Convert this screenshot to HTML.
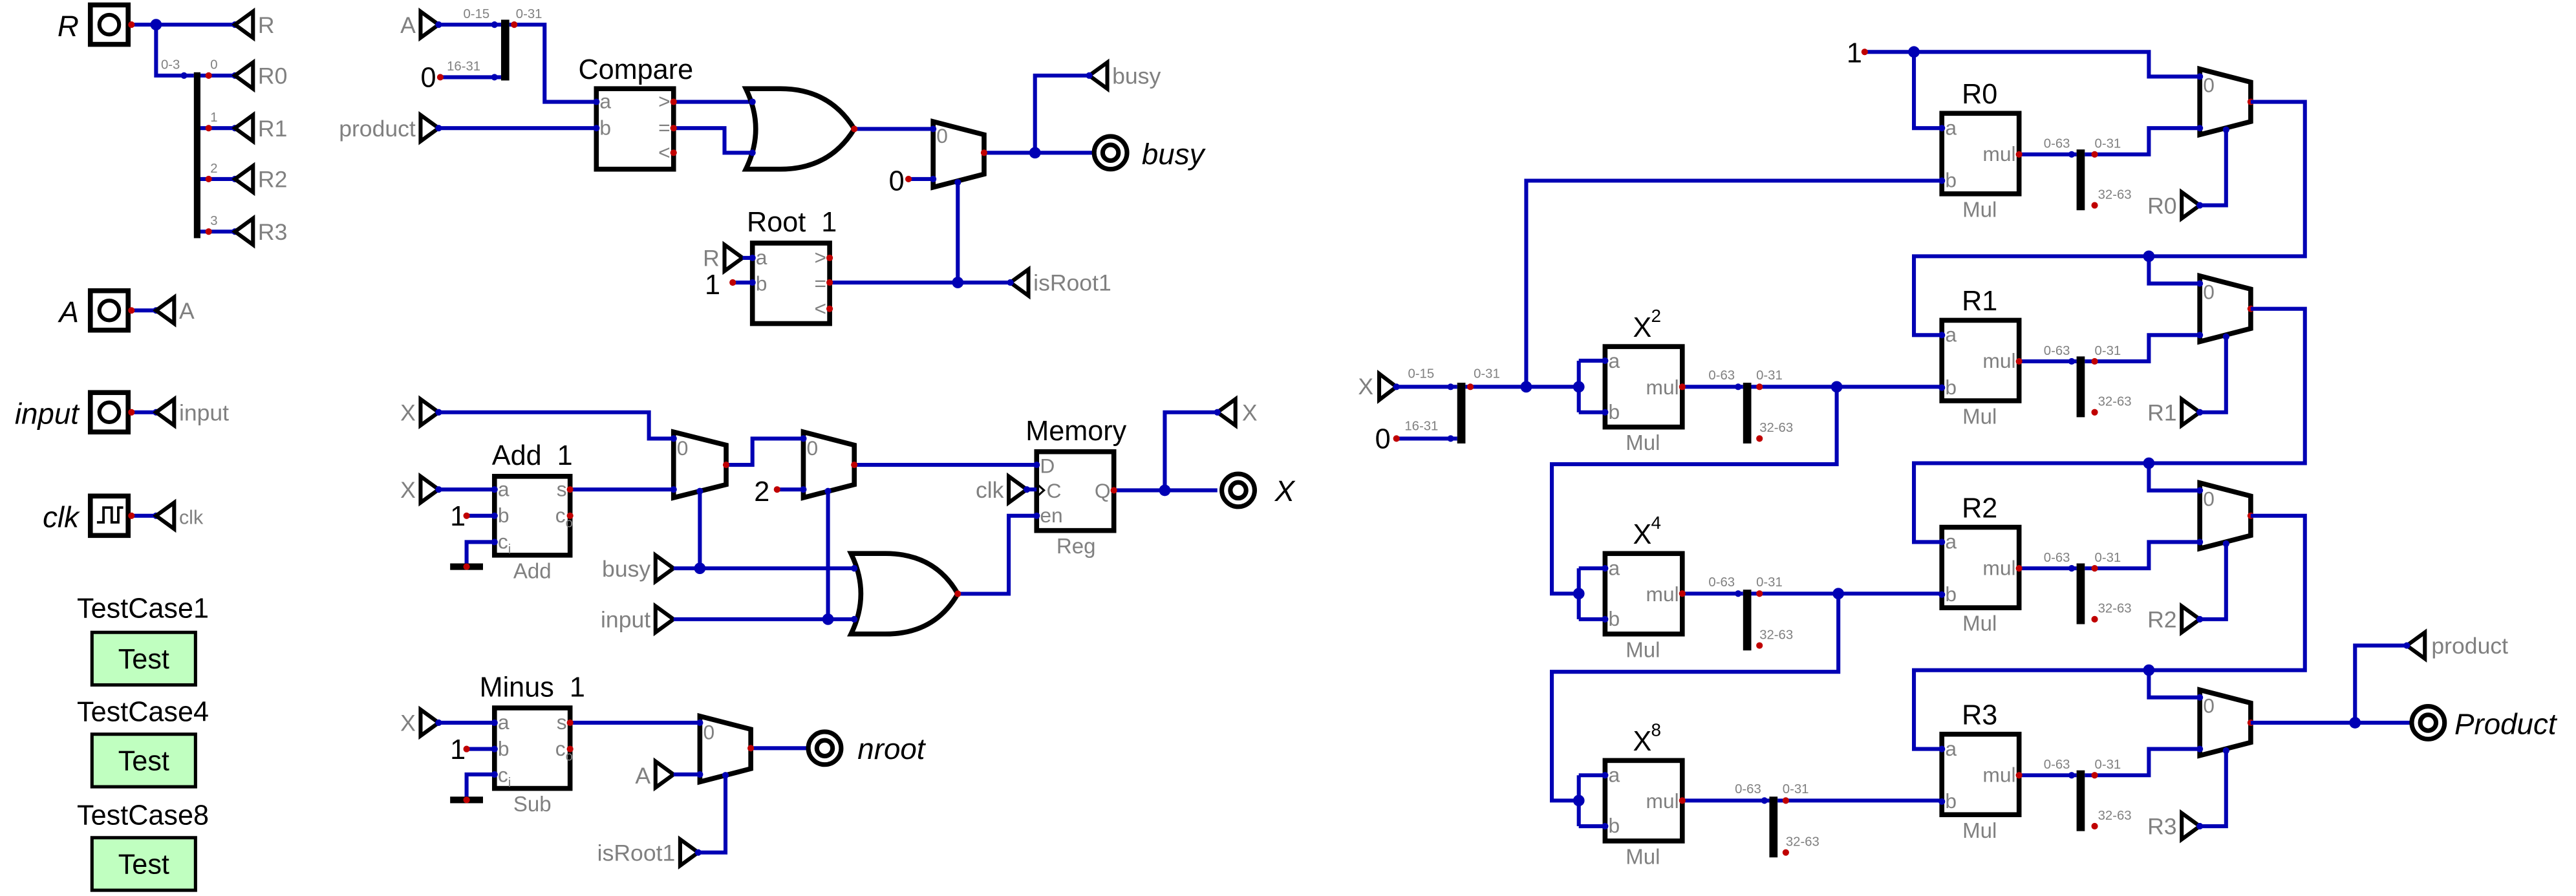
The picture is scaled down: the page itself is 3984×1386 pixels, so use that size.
<!DOCTYPE html>
<html><head><meta charset="utf-8"><style>
html,body{margin:0;padding:0;background:#fff;}
svg{display:block;}
.w{stroke:#0000b4;stroke-width:2.4;fill:none;}
.k{stroke:#000;stroke-width:3;fill:#fff;}
.t{stroke:#000;stroke-width:2.4;fill:none;}
text{font-family:"Liberation Sans Narrow","Liberation Sans",sans-serif;}
.g{fill:#808080;font-size:14px;}
.p{fill:#808080;font-size:12.5px;}
.s{fill:#808080;font-size:8px;}
.h{fill:#000;font-size:17px;}
.i{fill:#000;font-size:18px;font-style:italic;font-family:"Liberation Sans",sans-serif;}
.r{fill:#c00000;}
.b{fill:#0000b4;}
</style></head><body>
<svg width="3984" height="1386" viewBox="0 0 1568 545.5" preserveAspectRatio="none" xmlns="http://www.w3.org/2000/svg">
<!-- LEFT COLUMN -->
<text class="i" x="48" y="22" text-anchor="end">R</text>
<rect class="k" x="55" y="3" width="23" height="24" fill="none"/>
<circle cx="66.5" cy="15" r="6" class="t" stroke-width="3"/>
<path class="w" d="M80,15H143M95,15V46H118"/>
<circle class="b" cx="95" cy="15" r="3.5"/>
<circle class="r" cx="80" cy="15" r="2"/><circle class="b" cx="143" cy="15" r="2"/><circle class="b" cx="112" cy="46" r="2"/>
<polygon class="t" points="143,15 154,7 154,23"/><text class="g" x="157" y="20">R</text>
<rect x="118" y="44" width="4" height="101" fill="#000"/>
<text class="s" x="98" y="42">0-3</text>
<path class="w" d="M122,46H143M122,78H143M122,109H143M122,141H143"/>
<circle class="r" cx="127" cy="46" r="2"/><circle class="r" cx="127" cy="78" r="2"/><circle class="r" cx="127" cy="109" r="2"/><circle class="r" cx="127" cy="141" r="2"/>
<circle class="b" cx="143" cy="46" r="2"/><circle class="b" cx="143" cy="78" r="2"/><circle class="b" cx="143" cy="109" r="2"/><circle class="b" cx="143" cy="141" r="2"/>
<text class="s" x="128" y="42">0</text><text class="s" x="128" y="74">1</text><text class="s" x="128" y="105">2</text><text class="s" x="128" y="137">3</text>
<polygon class="t" points="143,46 154,38 154,54"/><text class="g" x="157" y="51">R0</text>
<polygon class="t" points="143,78 154,70 154,86"/><text class="g" x="157" y="83">R1</text>
<polygon class="t" points="143,109 154,101 154,117"/><text class="g" x="157" y="114">R2</text>
<polygon class="t" points="143,141 154,133 154,149"/><text class="g" x="157" y="146">R3</text>

<text class="i" x="48" y="196" text-anchor="end">A</text>
<rect class="k" x="55" y="177" width="23" height="24" fill="none"/>
<circle cx="66.5" cy="189" r="6" class="t" stroke-width="3"/>
<path class="w" d="M80,189H95"/><circle class="r" cx="80" cy="189" r="2"/><circle class="b" cx="95" cy="189" r="2"/>
<polygon class="t" points="95,189 106,181 106,197"/><text class="g" x="109" y="194">A</text>

<text class="i" x="48" y="258" text-anchor="end">input</text>
<rect class="k" x="55" y="239" width="23" height="24" fill="none"/>
<circle cx="66.5" cy="251" r="6" class="t" stroke-width="3"/>
<path class="w" d="M80,251H95"/><circle class="r" cx="80" cy="251" r="2"/><circle class="b" cx="95" cy="251" r="2"/>
<polygon class="t" points="95,251 106,243 106,259"/><text class="g" x="109" y="256">input</text>

<text class="i" x="48" y="321" text-anchor="end">clk</text>
<rect class="k" x="55" y="302" width="23" height="24" fill="none"/>
<path d="M59,318H63V309H68V318H72V309H75" stroke="#000" stroke-width="1.5" fill="none"/>
<path class="w" d="M80,314H95" stroke-width="1.6"/><circle class="r" cx="80" cy="314" r="2"/><circle class="b" cx="95" cy="314" r="2"/>
<polygon class="t" points="95,314 106,306 106,322"/><text class="g" x="109" y="319" style="font-family:'Liberation Sans',sans-serif;font-size:12px">clk</text>

<g style="font-family:'Liberation Sans',sans-serif">
<text x="87" y="376" text-anchor="middle" style="font-family:'Liberation Sans',sans-serif;font-size:17px">TestCase1</text>
<rect x="56" y="385" width="63" height="32" fill="#c0ffc0" stroke="#000" stroke-width="2"/>
<text x="87.5" y="407" text-anchor="middle" style="font-family:'Liberation Sans',sans-serif;font-size:17px">Test</text>
<text x="87" y="439" text-anchor="middle" style="font-family:'Liberation Sans',sans-serif;font-size:17px">TestCase4</text>
<rect x="56" y="447" width="63" height="32" fill="#c0ffc0" stroke="#000" stroke-width="2"/>
<text x="87.5" y="469" text-anchor="middle" style="font-family:'Liberation Sans',sans-serif;font-size:17px">Test</text>
<text x="87" y="502" text-anchor="middle" style="font-family:'Liberation Sans',sans-serif;font-size:17px">TestCase8</text>
<rect x="56" y="510" width="63" height="32" fill="#c0ffc0" stroke="#000" stroke-width="2"/>
<text x="87.5" y="532" text-anchor="middle" style="font-family:'Liberation Sans',sans-serif;font-size:17px">Test</text>
</g>

<!-- MIDDLE TOP -->
<polygon class="t" points="256,7 267,15 256,23"/><text class="g" x="253" y="20" text-anchor="end">A</text>
<path class="w" d="M267,15H305M310,15H331.5V62H363"/>
<rect x="305" y="12" width="5" height="37" fill="#000"/>
<circle class="b" cx="267" cy="15" r="2"/><circle class="b" cx="301" cy="15" r="2"/><circle class="r" cx="313" cy="15" r="2"/>
<text class="h" x="256" y="53">0</text>
<path class="w" d="M268,47H305"/><circle class="r" cx="268" cy="47" r="2"/><circle class="b" cx="301" cy="47" r="2"/>
<text class="s" x="282" y="11">0-15</text><text class="s" x="272" y="43">16-31</text><text class="s" x="314" y="11">0-31</text>
<polygon class="t" points="256,70 267,78 256,86"/><text class="g" x="253" y="83" text-anchor="end">product</text>
<path class="w" d="M267,78H363"/><circle class="b" cx="267" cy="78" r="2"/>
<rect class="k" x="363" y="54" width="47" height="49"/>
<text class="h" x="387" y="48" text-anchor="middle">Compare</text>
<text class="p" x="365" y="66">a</text><text class="p" x="365" y="82">b</text>
<text class="p" x="408" y="66" text-anchor="end">&gt;</text><text class="p" x="408" y="82" text-anchor="end">=</text><text class="p" x="408" y="97" text-anchor="end">&lt;</text>
<circle class="b" cx="363" cy="62" r="2"/><circle class="b" cx="363" cy="78" r="2"/>
<path class="w" d="M410,62H458M410,78H441V93H458"/>
<circle class="r" cx="410" cy="62" r="2"/><circle class="r" cx="410" cy="78" r="2"/><circle class="r" cx="410" cy="93" r="2"/>
<path class="k" d="M454,54Q466,78.5 454,103H475Q505,103 520,78.5Q505,54 475,54Z"/>
<circle class="b" cx="458" cy="62" r="2"/><circle class="b" cx="458" cy="93" r="2"/>
<path class="w" d="M520,78.5H568"/><circle class="r" cx="520" cy="78.5" r="2"/>
<path class="k" d="M568,74L599,82L599,106L568,114Z"/>
<text class="p" x="570" y="87">0</text>
<text class="h" x="541" y="116">0</text>
<path class="w" d="M553,109H568"/><circle class="r" cx="553" cy="109" r="2"/>
<circle class="b" cx="568" cy="78.5" r="2"/><circle class="b" cx="568" cy="109" r="2"/>
<path class="w" d="M599,93H665M630,93V46H663M583,111V172"/>
<circle class="r" cx="599" cy="93" r="2"/><circle class="b" cx="630" cy="93" r="3.5"/><circle class="b" cx="583" cy="111" r="2"/>
<polygon class="t" points="663,46 674,38 674,54"/><text class="g" x="677" y="51">busy</text><circle class="b" cx="663" cy="46" r="2"/>
<circle cx="676" cy="93" r="10" fill="#fff" stroke="#000" stroke-width="2.8"/><circle cx="676" cy="93" r="4.8" fill="none" stroke="#000" stroke-width="2.8"/>
<text class="i" x="695" y="100">busy</text>

<rect class="k" x="458" y="148" width="47" height="49"/>
<text class="h" x="482" y="141" text-anchor="middle" xml:space="preserve">Root  1</text>
<text class="p" x="460" y="161">a</text><text class="p" x="460" y="177">b</text>
<text class="p" x="503" y="161" text-anchor="end">&gt;</text><text class="p" x="503" y="177" text-anchor="end">=</text><text class="p" x="503" y="192" text-anchor="end">&lt;</text>
<polygon class="t" points="441,149 452,157 441,165"/><text class="g" x="438" y="162" text-anchor="end">R</text>
<path class="w" d="M452,157H458M446,172H458M505,172H615"/>
<text class="h" x="429" y="179">1</text><circle class="r" cx="446" cy="172" r="2"/>
<circle class="b" cx="458" cy="157" r="2"/><circle class="b" cx="458" cy="172" r="2"/>
<circle class="r" cx="505" cy="157" r="2"/><circle class="r" cx="505" cy="172" r="2"/><circle class="r" cx="505" cy="188" r="2"/>
<circle class="b" cx="583" cy="172" r="3.5"/>
<polygon class="t" points="615,172 626,164 626,180"/><text class="g" x="629" y="177">isRoot1</text><circle class="b" cx="615" cy="172" r="2"/>

<!-- MIDDLE LOWER -->
<polygon class="t" points="256,243 267,251 256,259"/><text class="g" x="253" y="256" text-anchor="end">X</text>
<path class="w" d="M267,251H395V267H410"/><circle class="b" cx="267" cy="251" r="2"/>
<polygon class="t" points="256,290 267,298 256,306"/><text class="g" x="253" y="303" text-anchor="end">X</text>
<path class="w" d="M267,298H301"/><circle class="b" cx="267" cy="298" r="2"/>
<rect class="k" x="301" y="290" width="46" height="48"/>
<text class="h" x="324" y="283" text-anchor="middle" xml:space="preserve">Add  1</text>
<text class="p" x="303" y="302">a</text><text class="p" x="303" y="318">b</text><text class="p" x="303" y="334">c<tspan font-size="8" dy="3">i</tspan></text>
<text class="p" x="345" y="302" text-anchor="end">s</text><text class="p" x="338" y="318">c<tspan font-size="8" dy="3">o</tspan></text>
<text class="p" x="324" y="352" text-anchor="middle" style="font-size:13px">Add</text>
<text class="h" x="274" y="320">1</text>
<path class="w" d="M284,314H301M301,330H284V345"/>
<rect x="274" y="343" width="20" height="4" fill="#000"/>
<circle class="r" cx="284" cy="314" r="2"/><circle class="r" cx="284" cy="345" r="2"/>
<circle class="b" cx="301" cy="298" r="2"/><circle class="b" cx="301" cy="314" r="2"/><circle class="b" cx="301" cy="330" r="2"/>
<path class="w" d="M347,298H410"/>
<circle class="r" cx="347" cy="298" r="2"/><circle class="r" cx="347" cy="314" r="2"/>
<path class="k" d="M410,263L442,271L442,295L410,303Z"/><text class="p" x="412" y="277">0</text>
<circle class="b" cx="410" cy="267" r="2"/><circle class="b" cx="410" cy="298" r="2"/>
<path class="w" d="M442,283H458V267H489"/><circle class="r" cx="442" cy="283" r="2"/>
<path class="k" d="M489,263L520,271L520,295L489,303Z"/><text class="p" x="491" y="277">0</text>
<text class="h" x="459" y="305">2</text>
<path class="w" d="M473,298H489"/><circle class="r" cx="473" cy="298" r="2"/>
<circle class="b" cx="489" cy="267" r="2"/><circle class="b" cx="489" cy="298" r="2"/>
<path class="w" d="M426,299V346M504,299V377M520,283H631"/>
<circle class="b" cx="426" cy="299" r="2"/><circle class="b" cx="504" cy="299" r="2"/><circle class="r" cx="520" cy="283" r="2"/>
<rect class="k" x="631" y="275" width="47" height="48"/>
<text class="h" x="655" y="268" text-anchor="middle">Memory</text>
<text class="p" x="633" y="288">D</text><text class="p" x="637" y="303">C</text><text class="p" x="633" y="318">en</text>
<path d="M631,294.5L635.5,298.5L631,302.5" stroke="#000" stroke-width="1.2" fill="none"/>
<text class="p" x="676" y="303" text-anchor="end">Q</text>
<text class="p" x="655" y="337" text-anchor="middle" style="font-size:13px">Reg</text>
<polygon class="t" points="614,290 625,298 614,306"/><text class="g" x="611" y="303" text-anchor="end">clk</text>
<path class="w" d="M625,298H631"/>
<circle class="b" cx="631" cy="283" r="2"/><circle class="b" cx="625" cy="298" r="2"/><circle class="b" cx="631" cy="314" r="2"/>
<polygon class="t" points="399,338 410,346 399,354"/><text class="g" x="396" y="351" text-anchor="end">busy</text>
<polygon class="t" points="399,369 410,377 399,385"/><text class="g" x="396" y="382" text-anchor="end">input</text>
<path class="w" d="M410,346H522M410,377H522M583,361.5H614V314H631"/>
<circle class="b" cx="426" cy="346" r="3.5"/><circle class="b" cx="504" cy="377" r="3.5"/>
<path class="k" d="M518,337Q530,361.5 518,386H539Q569,386 583,361.5Q569,337 539,337Z"/>
<circle class="b" cx="520" cy="346" r="2"/><circle class="b" cx="520" cy="377" r="2"/><circle class="r" cx="583" cy="361.5" r="2"/>
<path class="w" d="M678,298.5H741M709,298.5V251H741"/>
<circle class="r" cx="678" cy="298.5" r="2"/><circle class="b" cx="709" cy="298.5" r="3.5"/>
<polygon class="t" points="741,251 752,243 752,259"/><text class="g" x="756" y="256">X</text><circle class="b" cx="741" cy="251" r="2"/>
<circle cx="753.7" cy="298.5" r="10" fill="#fff" stroke="#000" stroke-width="2.8"/><circle cx="753.7" cy="298.5" r="4.8" fill="none" stroke="#000" stroke-width="2.8"/>
<text class="i" x="776" y="305">X</text>

<polygon class="t" points="256,432 267,440 256,448"/><text class="g" x="253" y="445" text-anchor="end">X</text>
<path class="w" d="M267,440H301"/><circle class="b" cx="267" cy="440" r="2"/>
<rect class="k" x="301" y="431" width="46" height="49"/>
<text class="h" x="324" y="424" text-anchor="middle" xml:space="preserve">Minus  1</text>
<text class="p" x="303" y="444">a</text><text class="p" x="303" y="460">b</text><text class="p" x="303" y="476">c<tspan font-size="8" dy="3">i</tspan></text>
<text class="p" x="345" y="444" text-anchor="end">s</text><text class="p" x="338" y="460">c<tspan font-size="8" dy="3">o</tspan></text>
<text class="p" x="324" y="494" text-anchor="middle" style="font-size:13px">Sub</text>
<text class="h" x="274" y="462">1</text>
<path class="w" d="M284,456H301M301,471.5H284V487"/>
<rect x="274" y="485" width="20" height="4" fill="#000"/>
<circle class="r" cx="284" cy="456" r="2"/><circle class="r" cx="284" cy="487" r="2"/>
<circle class="b" cx="301" cy="440" r="2"/><circle class="b" cx="301" cy="456" r="2"/><circle class="b" cx="301" cy="471.5" r="2"/>
<path class="w" d="M347,440H426"/>
<circle class="r" cx="347" cy="440" r="2"/><circle class="r" cx="347" cy="456" r="2"/>
<path class="k" d="M426,436L457,444L457,468L426,476Z"/><text class="p" x="428" y="450">0</text>
<polygon class="t" points="399,463.5 410,471.5 399,479.5"/><text class="g" x="396" y="477" text-anchor="end">A</text>
<path class="w" d="M410,471.5H426M457,455.5H491M441.6,472V519H425"/>
<circle class="b" cx="426" cy="440" r="2"/><circle class="b" cx="426" cy="471.5" r="2"/><circle class="b" cx="441.6" cy="472" r="2"/>
<circle class="r" cx="457" cy="455.5" r="2"/>
<circle cx="502" cy="455.5" r="10" fill="#fff" stroke="#000" stroke-width="2.8"/><circle cx="502" cy="455.5" r="4.8" fill="none" stroke="#000" stroke-width="2.8"/>
<text class="i" x="522" y="462">nroot</text>
<polygon class="t" points="414,511 425,519 414,527"/><text class="g" x="411" y="524" text-anchor="end">isRoot1</text><circle class="b" cx="425" cy="519" r="2"/>

<!-- RIGHT -->
<text class="h" x="1124" y="38">1</text>
<path class="w" d="M1135,31.6H1308V46.6H1339M1165,31.6V78H1182"/>
<circle class="r" cx="1135" cy="31.6" r="2"/><circle class="b" cx="1165" cy="31.6" r="3.5"/>
<polygon class="t" points="839.5,227.5 850,235.5 839.5,243.5"/><text class="g" x="836" y="240" text-anchor="end">X</text>
<rect x="887" y="233" width="5" height="37" fill="#000"/>
<text class="h" x="837" y="273">0</text>
<path class="w" d="M850,235.5H887M850,267H887M892,235.5H961M929,235.5V110H1182M961,219.6V251M961,219.6H977M961,251H977"/>
<circle class="b" cx="850" cy="235.5" r="2"/><circle class="b" cx="883" cy="235.5" r="2"/><circle class="r" cx="895" cy="235.5" r="2"/>
<circle class="r" cx="850" cy="267" r="2"/><circle class="b" cx="883" cy="267" r="2"/>
<text class="s" x="857" y="230">0-15</text><text class="s" x="855" y="262">16-31</text><text class="s" x="897" y="230">0-31</text>
<circle class="b" cx="929" cy="235.5" r="3.5"/><circle class="b" cx="961" cy="235.5" r="3.5"/>

<!-- X2 -->
<rect class="k" x="977" y="211" width="47" height="49"/>
<text class="h" x="994" y="205">X</text><text style="font-size:11px" x="1005" y="196">2</text>
<text class="p" x="979" y="224">a</text><text class="p" x="979" y="255">b</text><text class="p" x="1022" y="240" text-anchor="end">mul</text>
<text class="p" x="1000" y="274" text-anchor="middle" style="font-size:13px">Mul</text>
<circle class="b" cx="977" cy="219.6" r="2"/><circle class="b" cx="977" cy="251" r="2"/>
<rect x="1061" y="233" width="5" height="37" fill="#000"/>
<path class="w" d="M1024,235.5H1061M1066,235.5H1182M1118,235.5V282.6H944.6V361.4H961M961,346V377M961,346H977M961,377H977"/>
<circle class="r" cx="1024" cy="235.5" r="2"/><circle class="b" cx="1058" cy="235.5" r="2"/><circle class="r" cx="1071" cy="235.5" r="2"/><circle class="r" cx="1071" cy="267" r="2"/>
<text class="s" x="1040" y="231">0-63</text><text class="s" x="1069" y="231">0-31</text><text class="s" x="1071" y="263">32-63</text>
<circle class="b" cx="1118" cy="235.5" r="3.5"/><circle class="b" cx="961" cy="361.4" r="3.5"/>

<!-- X4 -->
<rect class="k" x="977" y="337" width="47" height="49"/>
<text class="h" x="994" y="331">X</text><text style="font-size:11px" x="1005" y="322">4</text>
<text class="p" x="979" y="350">a</text><text class="p" x="979" y="381">b</text><text class="p" x="1022" y="366" text-anchor="end">mul</text>
<text class="p" x="1000" y="400" text-anchor="middle" style="font-size:13px">Mul</text>
<circle class="b" cx="977" cy="346" r="2"/><circle class="b" cx="977" cy="377" r="2"/>
<rect x="1061" y="359" width="5" height="37" fill="#000"/>
<path class="w" d="M1024,361.4H1061M1066,361.4H1182M1119,361.4V409H944.6V487.4H961M961,472V503M961,472H977M961,503H977"/>
<circle class="r" cx="1024" cy="361.4" r="2"/><circle class="b" cx="1058" cy="361.4" r="2"/><circle class="r" cx="1071" cy="361.4" r="2"/><circle class="r" cx="1071" cy="393" r="2"/>
<text class="s" x="1040" y="357">0-63</text><text class="s" x="1069" y="357">0-31</text><text class="s" x="1071" y="389">32-63</text>
<circle class="b" cx="1119" cy="361.4" r="3.5"/><circle class="b" cx="961" cy="487.4" r="3.5"/>

<!-- X8 -->
<rect class="k" x="977" y="463" width="47" height="49"/>
<text class="h" x="994" y="457">X</text><text style="font-size:11px" x="1005" y="448">8</text>
<text class="p" x="979" y="476">a</text><text class="p" x="979" y="507">b</text><text class="p" x="1022" y="492" text-anchor="end">mul</text>
<text class="p" x="1000" y="526" text-anchor="middle" style="font-size:13px">Mul</text>
<circle class="b" cx="977" cy="472" r="2"/><circle class="b" cx="977" cy="503" r="2"/>
<rect x="1077" y="485" width="5" height="37" fill="#000"/>
<path class="w" d="M1024,487.4H1077M1082,487.4H1182"/>
<circle class="r" cx="1024" cy="487.4" r="2"/><circle class="b" cx="1074" cy="487.4" r="2"/><circle class="r" cx="1087" cy="487.4" r="2"/><circle class="r" cx="1087" cy="519" r="2"/>
<text class="s" x="1056" y="483">0-63</text><text class="s" x="1085" y="483">0-31</text><text class="s" x="1087" y="515">32-63</text>

<!-- R rows -->
<g id="row0">
<rect class="k" x="1182" y="69" width="47" height="49"/>
<circle class="b" cx="1182" cy="78" r="2"/><circle class="b" cx="1182" cy="110" r="2"/>
<rect x="1264" y="91" width="5" height="37" fill="#000"/>
<path class="w" d="M1229,94H1264M1269,94H1308V78H1339M1355,79V125H1339"/>
<circle class="r" cx="1229" cy="94" r="2"/><circle class="b" cx="1261" cy="94" r="2"/><circle class="r" cx="1275" cy="94" r="2"/><circle class="r" cx="1275" cy="125" r="2"/>
<path class="k" d="M1339,42L1370,50L1370,74L1339,82Z"/>
<circle class="b" cx="1339" cy="46.6" r="2"/><circle class="b" cx="1339" cy="78" r="2"/><circle class="r" cx="1370" cy="62" r="2"/><circle class="b" cx="1355" cy="79" r="2"/>
<polygon class="t" points="1328,117 1339,125 1328,133"/><circle class="b" cx="1339" cy="125" r="2"/>
</g>
<use href="#row0" transform="translate(0,126)"/>
<use href="#row0" transform="translate(0,252)"/>
<use href="#row0" transform="translate(0,378)"/>
<path class="w" d="M1370,62H1403V156H1165V204H1182M1308,156V172.6H1339M1370,188H1403V282H1165V330H1182M1308,282V298.6H1339M1370,314H1403V408H1165V456H1182M1308,408V424.6H1339"/>
<circle class="b" cx="1308" cy="156" r="3.5"/><circle class="b" cx="1308" cy="282" r="3.5"/><circle class="b" cx="1308" cy="408" r="3.5"/>

<text class="h" x="1205" y="63" text-anchor="middle">R0</text>
<text class="h" x="1205" y="189" text-anchor="middle">R1</text>
<text class="h" x="1205" y="315" text-anchor="middle">R2</text>
<text class="h" x="1205" y="441" text-anchor="middle">R3</text>
<g class="p">
<text class="p" x="1184" y="82">a</text><text class="p" x="1184" y="114">b</text><text class="p" x="1227" y="98" text-anchor="end">mul</text>
<text class="p" x="1184" y="208">a</text><text class="p" x="1184" y="240">b</text><text class="p" x="1227" y="224" text-anchor="end">mul</text>
<text class="p" x="1184" y="334">a</text><text class="p" x="1184" y="366">b</text><text class="p" x="1227" y="350" text-anchor="end">mul</text>
<text class="p" x="1184" y="460">a</text><text class="p" x="1184" y="492">b</text><text class="p" x="1227" y="476" text-anchor="end">mul</text>
</g>
<text class="p" x="1205" y="132" text-anchor="middle" style="font-size:13px">Mul</text>
<text class="p" x="1205" y="258" text-anchor="middle" style="font-size:13px">Mul</text>
<text class="p" x="1205" y="384" text-anchor="middle" style="font-size:13px">Mul</text>
<text class="p" x="1205" y="510" text-anchor="middle" style="font-size:13px">Mul</text>
<text class="s" x="1244" y="90">0-63</text><text class="s" x="1275" y="90">0-31</text><text class="s" x="1277" y="121">32-63</text>
<text class="s" x="1244" y="216">0-63</text><text class="s" x="1275" y="216">0-31</text><text class="s" x="1277" y="247">32-63</text>
<text class="s" x="1244" y="342">0-63</text><text class="s" x="1275" y="342">0-31</text><text class="s" x="1277" y="373">32-63</text>
<text class="s" x="1244" y="468">0-63</text><text class="s" x="1275" y="468">0-31</text><text class="s" x="1277" y="499">32-63</text>
<text class="p" x="1341" y="56">0</text><text class="p" x="1341" y="182">0</text><text class="p" x="1341" y="308">0</text><text class="p" x="1341" y="434">0</text>
<text class="g" x="1325" y="130" text-anchor="end">R0</text>
<text class="g" x="1325" y="256" text-anchor="end">R1</text>
<text class="g" x="1325" y="382" text-anchor="end">R2</text>
<text class="g" x="1325" y="508" text-anchor="end">R3</text>

<path class="w" d="M1370,440H1467M1433.5,440V393H1465"/>
<circle class="b" cx="1433.5" cy="440" r="3.5"/>
<polygon class="t" points="1465,393 1476,385 1476,401"/><circle class="b" cx="1465" cy="393" r="2"/>
<text class="g" x="1480" y="398">product</text>
<circle cx="1478" cy="440" r="10" fill="#fff" stroke="#000" stroke-width="2.8"/><circle cx="1478" cy="440" r="4.8" fill="none" stroke="#000" stroke-width="2.8"/>
<text class="i" x="1494" y="447">Product</text>
</svg>
</body></html>
